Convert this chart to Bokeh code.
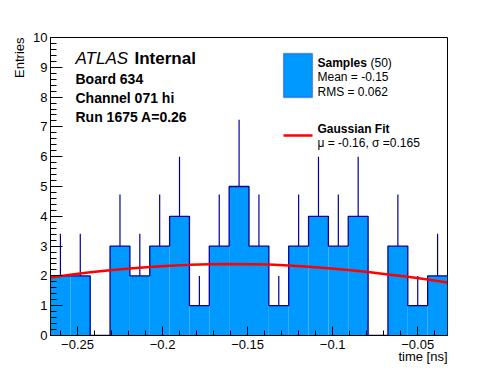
import numpy as np
from bokeh.plotting import figure
from bokeh.models import Range1d, FixedTicker, Label, BoxAnnotation, Title
from bokeh.embed import file_html
from bokeh.resources import INLINE

# ---- data ----
hist_lo = -0.2659
hist_hi = -0.0325
counts = [2, 2, 0, 3, 2, 3, 4, 1, 3, 5, 3, 1, 3, 4, 3, 4, 0, 3, 1, 2]
# fitted gaussian curve, read at the 21 bin edges
fit_y = [1.95, 2.04, 2.12, 2.19, 2.25, 2.30, 2.34, 2.37, 2.39, 2.40, 2.395,
         2.38, 2.35, 2.31, 2.26, 2.20, 2.13, 2.05, 1.97, 1.88, 1.78]
x_ticks = [-0.25, -0.2, -0.15, -0.1, -0.05]
x_tick_labels = ["\u22120.25", "\u22120.2", "\u22120.15", "\u22120.1", "\u22120.05"]
x_minor = [-0.26, -0.24, -0.23, -0.22, -0.21, -0.19, -0.18, -0.17, -0.16,
           -0.14, -0.13, -0.12, -0.11, -0.09, -0.08, -0.07, -0.06, -0.04]
y_ticks = [0, 1, 2, 3, 4, 5, 6, 7, 8, 9, 10]
y_tick_labels = ["0", "1", "2", "3", "4", "5", "6", "7", "8", "9", "10"]
y_minor = [v / 5 for v in range(0, 51) if v % 5 != 0]

FONT = "Liberation Sans"
FILL = "#0099ff"
EDGE = "#000099"

FL, FT, FW, FH = 50, 37, 397, 298   # frame position in the picture (px)

p = figure(frame_width=FW, frame_height=FH,
           x_range=Range1d(hist_lo, hist_hi), y_range=Range1d(0, 10),
           output_backend="svg", toolbar_location=None,
           min_border_left=FL, min_border_right=41,
           min_border_top=FT, min_border_bottom=29)
p.xgrid.visible = False
p.ygrid.visible = False
p.outline_line_color = "black"
p.outline_line_width = 1
p.background_fill_color = "white"
p.border_fill_color = "white"

for ax in (p.xaxis[0], p.yaxis[0]):
    ax.axis_line_color = "black"
    ax.major_tick_line_color = "black"
    ax.minor_tick_line_color = "black"
    ax.major_tick_out = 0
    ax.minor_tick_out = 0
    ax.major_label_text_font = FONT
    ax.major_label_text_font_size = "13px"
    ax.major_label_text_color = "black"

p.xaxis.ticker = FixedTicker(ticks=x_ticks, minor_ticks=x_minor)
p.xaxis.major_label_overrides = {t: l for t, l in zip(x_ticks, x_tick_labels)}
p.xaxis.major_tick_in = 9
p.xaxis.minor_tick_in = 5
p.xaxis.major_label_standoff = 4

p.yaxis.ticker = FixedTicker(ticks=y_ticks, minor_ticks=y_minor)
p.yaxis.major_label_overrides = {t: l for t, l in zip(y_ticks, y_tick_labels)}
p.yaxis.major_tick_in = 12
p.yaxis.minor_tick_in = 6
p.yaxis.major_label_standoff = 3

# axis titles
p.add_layout(Title(text="time [ns]", align="right", text_font=FONT,
                   text_font_size="13px", text_font_style="normal",
                   text_color="black", standoff=-9), "below")
p.add_layout(Title(text="Entries", align="right", text_font=FONT,
                   text_font_size="13px", text_font_style="normal",
                   text_color="black", standoff=8), "left")

# ---- histogram ----
edges = np.linspace(hist_lo, hist_hi, len(counts) + 1)
centers = 0.5 * (edges[:-1] + edges[1:])
cnt = np.array(counts, dtype=float)
p.quad(left=edges[:-1], right=edges[1:], bottom=0, top=cnt,
       fill_color=FILL, line_color=None)
p.step(x=edges, y=np.append(cnt, cnt[-1]), mode="after",
       line_color=EDGE, line_width=1.3)
nz = cnt > 0
p.segment(x0=centers[nz], y0=cnt[nz], x1=centers[nz], y1=cnt[nz] + np.sqrt(cnt[nz]),
          line_color=EDGE, line_width=1.2)

# ---- fit ----
p.line(edges, fit_y, line_color="red", line_width=2.5)

# ---- text / legend (positions in picture pixels) ----
def dx(px):
    return hist_lo + (px - FL) / FW * (hist_hi - hist_lo)

def dy(py):
    return (FT + FH - py) / FH * 10.0

def txt(px, py, s, size, style="normal", align="left"):
    p.add_layout(Label(x=dx(px), y=dy(py), text=s, text_font=FONT,
                       text_font_size=size, text_font_style=style,
                       text_align=align, text_baseline="middle",
                       text_color="black"))

txt(75, 58, "ATLAS", "17px", "italic")
txt(134, 58, "Internal", "17px", "bold")
txt(75, 78, "Board 634", "14px", "bold")
txt(75, 97, "Channel 071 hi", "14px", "bold")
txt(75, 116, "Run 1675 A=0.26", "14px", "bold")

p.add_layout(BoxAnnotation(left=dx(283), right=dx(312), top=dy(53), bottom=dy(97),
                           fill_color=FILL, fill_alpha=1.0, line_color=EDGE,
                           line_width=1.3))
txt(317, 62, "Samples", "12px", "bold")
txt(370, 62, "(50)", "12px")
txt(317, 76, "Mean = -0.15", "12px")
txt(317, 91, "RMS = 0.062", "12px")

p.add_layout(BoxAnnotation(left=dx(283), right=dx(312), top=dy(133.8), bottom=dy(136.2),
                           fill_color="red", fill_alpha=1.0, line_color=None))
txt(317, 128, "Gaussian Fit", "12px", "bold")
txt(317, 142, "\u03bc = -0.16, \u03c3 =0.165", "12px")

open("out.html", "w").write(file_html(p, INLINE))
